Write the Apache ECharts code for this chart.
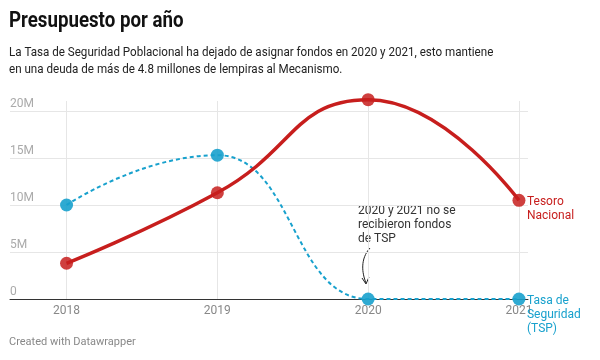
<!DOCTYPE html>
<html><head><meta charset="utf-8">
<script src="https://cdn.jsdelivr.net/npm/echarts@6/dist/echarts.min.js"></script>
<style>html,body{margin:0;padding:0;background:#fff;}#c{width:600px;height:360px;}</style>
</head><body><div id="c"></div>
<script>
const years = [2018, 2019, 2020, 2021];
const tesoro = [3.8, 11.3, 21.2, 10.5];
const tsp = [10.0, 15.3, 0, 0];
const yTicks = [0, 5, 10, 15, 20];
const tesoroName = 'Tesoro\nNacional';
const tspName = 'Tasa de\nSeguridad\n(TSP)';
const title = 'Presupuesto por año';
const subtitle = 'La Tasa de Seguridad Poblacional ha dejado de asignar fondos en 2020 y 2021, esto mantiene\nen una deuda de más de 4.8 millones de lempiras al Mecanismo.';
const note = '2020 y 2021 no se\nrecibieron fondos\nde TSP';
const footer = 'Created with Datawrapper';

const RED = '#c71e1d', BLUE = '#18a1cd';
const FONT = 'Roboto';
const chart = echarts.init(document.getElementById('c'), null, {renderer: 'canvas'});
chart.setOption({
  animation: false,
  textStyle: {fontFamily: FONT},
  grid: {left: 10, right: 72, top: 101, bottom: 61, containLabel: false},
  xAxis: {
    type: 'value', min: 2017.625, max: 2021.06,
    axisLine: {show: true, onZero: false, lineStyle: {color: '#333', width: 1}},
    axisTick: {show: false, customValues: years},
    axisLabel: {customValues: years, color: '#888', fontSize: 12, margin: 6, fontFamily: FONT,
      formatter: v => String(v)},
    splitLine: {show: true, lineStyle: {color: '#e6e6e6', width: 1}}
  },
  yAxis: {
    type: 'value', min: 0, max: 21.06,
    axisLine: {show: false},
    axisTick: {show: false, customValues: yTicks},
    axisLabel: {customValues: yTicks, inside: true, margin: 0, verticalAlign: 'bottom', color: '#aaa',
      fontSize: 12, padding: [0, 0, 1, 0], fontFamily: FONT,
      formatter: v => v === 0 ? '0' : v + 'M'},
    splitLine: {show: true, lineStyle: {color: '#e6e6e6', width: 1}}
  },
  series: [
    {
      type: 'line', name: 'TSP', smooth: 0.5, smoothMonotone: 'x', clip: false,
      data: years.map((y, i) => [y, tsp[i]]),
      symbol: 'circle', symbolSize: 13,
      itemStyle: {color: BLUE, opacity: 0.9},
      lineStyle: {color: BLUE, width: 2, type: [4, 3]},
      endLabel: {show: true, formatter: tspName, color: BLUE, fontSize: 12, align: 'left',
        verticalAlign: 'top', offset: [0, -5], lineHeight: 14, fontFamily: FONT}
    },
    {
      type: 'line', name: 'Tesoro', smooth: 0.5, clip: false,
      data: years.map((y, i) => [y, tesoro[i]]),
      symbol: 'circle', symbolSize: 13,
      itemStyle: {color: RED, opacity: 0.85},
      lineStyle: {color: RED, width: 3.5},
      endLabel: {show: true, formatter: tesoroName, color: RED, fontSize: 12, align: 'left',
        verticalAlign: 'top', offset: [0, -5], lineHeight: 14, fontFamily: FONT}
    }
  ],
  graphic: [
    {type: 'text', x: 9, y: 10, scaleX: 0.85, style: {text: title, font: 'bold 22px Roboto', fill: '#111'}},
    {type: 'text', x: 9, y: 44, scaleX: 0.86, style: {text: subtitle, font: '13.5px Roboto', fill: '#222', lineHeight: 17}},
    {type: 'text', x: 358, y: 204, style: {text: note, font: '12px Roboto', fill: '#333', lineHeight: 14}},
    {type: 'bezierCurve', shape: {x1: 370, y1: 248, x2: 366, y2: 283, cpx1: 360, cpy1: 259, cpx2: 362, cpy2: 273},
      style: {stroke: '#222', lineWidth: 1, fill: null}},
    {type: 'polyline', shape: {points: [[362, 278], [366, 284], [369, 277]]}, style: {stroke: '#222', lineWidth: 1, fill: null}},
    {type: 'text', x: 9, y: 337, style: {text: footer, font: '11px Roboto', fill: '#888'}}
  ]
});
</script></body></html>
